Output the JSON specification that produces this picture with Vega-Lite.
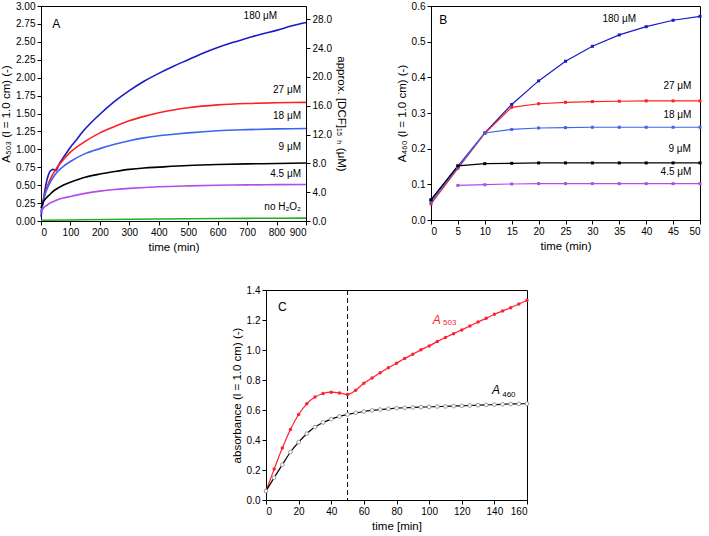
{
  "$schema": "https://vega.github.io/schema/vega-lite/v6.json",
  "padding": {"left": 0, "top": 0, "right": 0, "bottom": 0},
  "background": "white",
  "config": {
    "view": {"stroke": "black", "strokeWidth": 1},
    "font": "Liberation Sans",
    "axis": {
      "labelFont": "Liberation Sans", "titleFont": "Liberation Sans",
      "labelFontSize": 10, "titleFontSize": 11.5, "titleFontWeight": "normal",
      "grid": false, "domainColor": "black", "tickColor": "black",
      "labelColor": "black", "titleColor": "black", "tickSize": 4,
      "labelOverlap": false, "labelBound": false
    },
    "text": {"font": "Liberation Sans", "fontSize": 10, "color": "black"},
    "line": {"strokeWidth": 1.5}
  },
  "resolve": {"scale": {"color": "independent"}},
  "datasets": {
    "A": [
      {"t": 0, "v": 0.06, "s": "180 μM"}, {"t": 5, "v": 0.21, "s": "180 μM"}, {"t": 10, "v": 0.35, "s": "180 μM"}, {"t": 15, "v": 0.47, "s": "180 μM"}, {"t": 20, "v": 0.57, "s": "180 μM"}, {"t": 25, "v": 0.64, "s": "180 μM"}, {"t": 30, "v": 0.69, "s": "180 μM"}, {"t": 35, "v": 0.71, "s": "180 μM"}, {"t": 40, "v": 0.72, "s": "180 μM"}, {"t": 45, "v": 0.714, "s": "180 μM"}, {"t": 50, "v": 0.703, "s": "180 μM"}, {"t": 55, "v": 0.732, "s": "180 μM"}, {"t": 60, "v": 0.78, "s": "180 μM"}, {"t": 70, "v": 0.85, "s": "180 μM"}, {"t": 80, "v": 0.91, "s": "180 μM"}, {"t": 90, "v": 0.97, "s": "180 μM"}, {"t": 100, "v": 1.03, "s": "180 μM"}, {"t": 120, "v": 1.13, "s": "180 μM"}, {"t": 140, "v": 1.24, "s": "180 μM"}, {"t": 160, "v": 1.33, "s": "180 μM"}, {"t": 200, "v": 1.49, "s": "180 μM"}, {"t": 250, "v": 1.67, "s": "180 μM"}, {"t": 300, "v": 1.82, "s": "180 μM"}, {"t": 350, "v": 1.95, "s": "180 μM"}, {"t": 400, "v": 2.06, "s": "180 μM"}, {"t": 450, "v": 2.16, "s": "180 μM"}, {"t": 500, "v": 2.25, "s": "180 μM"}, {"t": 550, "v": 2.34, "s": "180 μM"}, {"t": 600, "v": 2.42, "s": "180 μM"}, {"t": 650, "v": 2.49, "s": "180 μM"}, {"t": 700, "v": 2.55, "s": "180 μM"}, {"t": 750, "v": 2.61, "s": "180 μM"}, {"t": 800, "v": 2.66, "s": "180 μM"}, {"t": 850, "v": 2.72, "s": "180 μM"}, {"t": 900, "v": 2.77, "s": "180 μM"},
      {"t": 0, "v": 0.12, "s": "27 μM"}, {"t": 5, "v": 0.24, "s": "27 μM"}, {"t": 10, "v": 0.33, "s": "27 μM"}, {"t": 15, "v": 0.41, "s": "27 μM"}, {"t": 20, "v": 0.47, "s": "27 μM"}, {"t": 30, "v": 0.57, "s": "27 μM"}, {"t": 40, "v": 0.65, "s": "27 μM"}, {"t": 50, "v": 0.72, "s": "27 μM"}, {"t": 75, "v": 0.85, "s": "27 μM"}, {"t": 100, "v": 0.96, "s": "27 μM"}, {"t": 150, "v": 1.11, "s": "27 μM"}, {"t": 200, "v": 1.23, "s": "27 μM"}, {"t": 250, "v": 1.32, "s": "27 μM"}, {"t": 300, "v": 1.4, "s": "27 μM"}, {"t": 350, "v": 1.46, "s": "27 μM"}, {"t": 400, "v": 1.51, "s": "27 μM"}, {"t": 450, "v": 1.55, "s": "27 μM"}, {"t": 500, "v": 1.58, "s": "27 μM"}, {"t": 600, "v": 1.62, "s": "27 μM"}, {"t": 700, "v": 1.64, "s": "27 μM"}, {"t": 800, "v": 1.65, "s": "27 μM"}, {"t": 900, "v": 1.655, "s": "27 μM"},
      {"t": 0, "v": 0.12, "s": "18 μM"}, {"t": 5, "v": 0.22, "s": "18 μM"}, {"t": 10, "v": 0.31, "s": "18 μM"}, {"t": 15, "v": 0.38, "s": "18 μM"}, {"t": 20, "v": 0.44, "s": "18 μM"}, {"t": 30, "v": 0.53, "s": "18 μM"}, {"t": 40, "v": 0.6, "s": "18 μM"}, {"t": 50, "v": 0.66, "s": "18 μM"}, {"t": 75, "v": 0.76, "s": "18 μM"}, {"t": 100, "v": 0.83, "s": "18 μM"}, {"t": 150, "v": 0.94, "s": "18 μM"}, {"t": 200, "v": 1.01, "s": "18 μM"}, {"t": 250, "v": 1.07, "s": "18 μM"}, {"t": 300, "v": 1.12, "s": "18 μM"}, {"t": 350, "v": 1.16, "s": "18 μM"}, {"t": 400, "v": 1.19, "s": "18 μM"}, {"t": 450, "v": 1.21, "s": "18 μM"}, {"t": 500, "v": 1.23, "s": "18 μM"}, {"t": 600, "v": 1.26, "s": "18 μM"}, {"t": 700, "v": 1.275, "s": "18 μM"}, {"t": 800, "v": 1.285, "s": "18 μM"}, {"t": 900, "v": 1.29, "s": "18 μM"},
      {"t": 0, "v": 0.18, "s": "9 μM"}, {"t": 5, "v": 0.24, "s": "9 μM"}, {"t": 10, "v": 0.28, "s": "9 μM"}, {"t": 20, "v": 0.33, "s": "9 μM"}, {"t": 30, "v": 0.37, "s": "9 μM"}, {"t": 40, "v": 0.41, "s": "9 μM"}, {"t": 50, "v": 0.44, "s": "9 μM"}, {"t": 75, "v": 0.5, "s": "9 μM"}, {"t": 100, "v": 0.54, "s": "9 μM"}, {"t": 150, "v": 0.61, "s": "9 μM"}, {"t": 200, "v": 0.655, "s": "9 μM"}, {"t": 250, "v": 0.69, "s": "9 μM"}, {"t": 300, "v": 0.72, "s": "9 μM"}, {"t": 350, "v": 0.74, "s": "9 μM"}, {"t": 400, "v": 0.752, "s": "9 μM"}, {"t": 500, "v": 0.774, "s": "9 μM"}, {"t": 600, "v": 0.788, "s": "9 μM"}, {"t": 700, "v": 0.797, "s": "9 μM"}, {"t": 800, "v": 0.802, "s": "9 μM"}, {"t": 900, "v": 0.81, "s": "9 μM"},
      {"t": 0, "v": 0.12, "s": "4.5 μM"}, {"t": 5, "v": 0.16, "s": "4.5 μM"}, {"t": 10, "v": 0.19, "s": "4.5 μM"}, {"t": 20, "v": 0.22, "s": "4.5 μM"}, {"t": 30, "v": 0.25, "s": "4.5 μM"}, {"t": 50, "v": 0.285, "s": "4.5 μM"}, {"t": 75, "v": 0.32, "s": "4.5 μM"}, {"t": 100, "v": 0.343, "s": "4.5 μM"}, {"t": 150, "v": 0.385, "s": "4.5 μM"}, {"t": 200, "v": 0.417, "s": "4.5 μM"}, {"t": 250, "v": 0.44, "s": "4.5 μM"}, {"t": 300, "v": 0.455, "s": "4.5 μM"}, {"t": 400, "v": 0.478, "s": "4.5 μM"}, {"t": 500, "v": 0.49, "s": "4.5 μM"}, {"t": 600, "v": 0.498, "s": "4.5 μM"}, {"t": 700, "v": 0.504, "s": "4.5 μM"}, {"t": 800, "v": 0.507, "s": "4.5 μM"}, {"t": 900, "v": 0.51, "s": "4.5 μM"},
      {"t": 0, "v": 0.01, "s": "no H₂O₂"}, {"t": 100, "v": 0.015, "s": "no H₂O₂"}, {"t": 300, "v": 0.025, "s": "no H₂O₂"}, {"t": 500, "v": 0.032, "s": "no H₂O₂"}, {"t": 700, "v": 0.037, "s": "no H₂O₂"}, {"t": 900, "v": 0.04, "s": "no H₂O₂"}
    ],
    "Alabels": [
      {"t": 802, "v": 2.86, "label": "180 μM"},
      {"t": 883, "v": 1.83, "label": "27 μM"},
      {"t": 883, "v": 1.46, "label": "18 μM"},
      {"t": 883, "v": 1.03, "label": "9 μM"},
      {"t": 883, "v": 0.65, "label": "4.5 μM"},
      {"t": 883, "v": 0.195, "label": "no H₂O₂"}
    ],
    "B": [
      {"t": 0, "v": 0.055, "s": "180 μM"}, {"t": 5, "v": 0.151, "s": "180 μM"}, {"t": 10, "v": 0.244, "s": "180 μM"}, {"t": 15, "v": 0.324, "s": "180 μM"}, {"t": 20, "v": 0.39, "s": "180 μM"}, {"t": 25, "v": 0.445, "s": "180 μM"}, {"t": 30, "v": 0.487, "s": "180 μM"}, {"t": 35, "v": 0.519, "s": "180 μM"}, {"t": 40, "v": 0.542, "s": "180 μM"}, {"t": 45, "v": 0.56, "s": "180 μM"}, {"t": 50, "v": 0.571, "s": "180 μM"},
      {"t": 0, "v": 0.045, "s": "27 μM"}, {"t": 5, "v": 0.145, "s": "27 μM"}, {"t": 10, "v": 0.243, "s": "27 μM"}, {"t": 15, "v": 0.316, "s": "27 μM"}, {"t": 20, "v": 0.326, "s": "27 μM"}, {"t": 25, "v": 0.33, "s": "27 μM"}, {"t": 30, "v": 0.332, "s": "27 μM"}, {"t": 35, "v": 0.333, "s": "27 μM"}, {"t": 40, "v": 0.334, "s": "27 μM"}, {"t": 45, "v": 0.334, "s": "27 μM"}, {"t": 50, "v": 0.334, "s": "27 μM"},
      {"t": 0, "v": 0.05, "s": "18 μM"}, {"t": 5, "v": 0.148, "s": "18 μM"}, {"t": 10, "v": 0.244, "s": "18 μM"}, {"t": 15, "v": 0.254, "s": "18 μM"}, {"t": 20, "v": 0.258, "s": "18 μM"}, {"t": 25, "v": 0.259, "s": "18 μM"}, {"t": 30, "v": 0.26, "s": "18 μM"}, {"t": 35, "v": 0.26, "s": "18 μM"}, {"t": 40, "v": 0.26, "s": "18 μM"}, {"t": 45, "v": 0.26, "s": "18 μM"}, {"t": 50, "v": 0.26, "s": "18 μM"},
      {"t": 0, "v": 0.057, "s": "9 μM"}, {"t": 5, "v": 0.152, "s": "9 μM"}, {"t": 10, "v": 0.158, "s": "9 μM"}, {"t": 15, "v": 0.159, "s": "9 μM"}, {"t": 20, "v": 0.16, "s": "9 μM"}, {"t": 25, "v": 0.16, "s": "9 μM"}, {"t": 30, "v": 0.16, "s": "9 μM"}, {"t": 35, "v": 0.16, "s": "9 μM"}, {"t": 40, "v": 0.16, "s": "9 μM"}, {"t": 45, "v": 0.16, "s": "9 μM"}, {"t": 50, "v": 0.16, "s": "9 μM"},
      {"t": 5, "v": 0.097, "s": "4.5 μM"}, {"t": 10, "v": 0.099, "s": "4.5 μM"}, {"t": 15, "v": 0.101, "s": "4.5 μM"}, {"t": 20, "v": 0.102, "s": "4.5 μM"}, {"t": 25, "v": 0.102, "s": "4.5 μM"}, {"t": 30, "v": 0.102, "s": "4.5 μM"}, {"t": 35, "v": 0.102, "s": "4.5 μM"}, {"t": 40, "v": 0.102, "s": "4.5 μM"}, {"t": 45, "v": 0.102, "s": "4.5 μM"}, {"t": 50, "v": 0.102, "s": "4.5 μM"}
    ],
    "Blabels": [
      {"t": 38.1, "v": 0.563, "label": "180 μM"},
      {"t": 48.4, "v": 0.376, "label": "27 μM"},
      {"t": 48.4, "v": 0.294, "label": "18 μM"},
      {"t": 48.3, "v": 0.198, "label": "9 μM"},
      {"t": 48.4, "v": 0.135, "label": "4.5 μM"}
    ],
    "C": [
      {"t": 0, "v": 0.06, "s": "A503"}, {"t": 5, "v": 0.206, "s": "A503"}, {"t": 10, "v": 0.346, "s": "A503"}, {"t": 15, "v": 0.47, "s": "A503"}, {"t": 20, "v": 0.57, "s": "A503"}, {"t": 25, "v": 0.641, "s": "A503"}, {"t": 30, "v": 0.686, "s": "A503"}, {"t": 35, "v": 0.71, "s": "A503"}, {"t": 40, "v": 0.719, "s": "A503"}, {"t": 45, "v": 0.714, "s": "A503"}, {"t": 50, "v": 0.703, "s": "A503"}, {"t": 55, "v": 0.732, "s": "A503"}, {"t": 60, "v": 0.779, "s": "A503"}, {"t": 65, "v": 0.814, "s": "A503"}, {"t": 70, "v": 0.848, "s": "A503"}, {"t": 75, "v": 0.881, "s": "A503"}, {"t": 80, "v": 0.912, "s": "A503"}, {"t": 85, "v": 0.943, "s": "A503"}, {"t": 90, "v": 0.972, "s": "A503"}, {"t": 95, "v": 1.001, "s": "A503"}, {"t": 100, "v": 1.027, "s": "A503"}, {"t": 105, "v": 1.056, "s": "A503"}, {"t": 110, "v": 1.083, "s": "A503"}, {"t": 115, "v": 1.109, "s": "A503"}, {"t": 120, "v": 1.134, "s": "A503"}, {"t": 125, "v": 1.16, "s": "A503"}, {"t": 130, "v": 1.187, "s": "A503"}, {"t": 135, "v": 1.211, "s": "A503"}, {"t": 140, "v": 1.238, "s": "A503"}, {"t": 145, "v": 1.26, "s": "A503"}, {"t": 150, "v": 1.282, "s": "A503"}, {"t": 155, "v": 1.307, "s": "A503"}, {"t": 160, "v": 1.331, "s": "A503"},
      {"t": 0, "v": 0.06, "s": "A460"}, {"t": 5, "v": 0.149, "s": "A460"}, {"t": 10, "v": 0.235, "s": "A460"}, {"t": 15, "v": 0.32, "s": "A460"}, {"t": 20, "v": 0.386, "s": "A460"}, {"t": 25, "v": 0.442, "s": "A460"}, {"t": 30, "v": 0.486, "s": "A460"}, {"t": 35, "v": 0.517, "s": "A460"}, {"t": 40, "v": 0.539, "s": "A460"}, {"t": 45, "v": 0.557, "s": "A460"}, {"t": 50, "v": 0.57, "s": "A460"}, {"t": 55, "v": 0.581, "s": "A460"}, {"t": 60, "v": 0.59, "s": "A460"}, {"t": 65, "v": 0.597, "s": "A460"}, {"t": 70, "v": 0.603, "s": "A460"}, {"t": 75, "v": 0.608, "s": "A460"}, {"t": 80, "v": 0.612, "s": "A460"}, {"t": 85, "v": 0.615, "s": "A460"}, {"t": 90, "v": 0.617, "s": "A460"}, {"t": 95, "v": 0.619, "s": "A460"}, {"t": 100, "v": 0.621, "s": "A460"}, {"t": 105, "v": 0.623, "s": "A460"}, {"t": 110, "v": 0.624, "s": "A460"}, {"t": 115, "v": 0.626, "s": "A460"}, {"t": 120, "v": 0.628, "s": "A460"}, {"t": 125, "v": 0.63, "s": "A460"}, {"t": 130, "v": 0.632, "s": "A460"}, {"t": 135, "v": 0.634, "s": "A460"}, {"t": 140, "v": 0.636, "s": "A460"}, {"t": 145, "v": 0.638, "s": "A460"}, {"t": 150, "v": 0.64, "s": "A460"}, {"t": 155, "v": 0.641, "s": "A460"}, {"t": 160, "v": 0.642, "s": "A460"}
    ]
  },
  "vconcat": [
    {
      "hconcat": [
        {
          "width": 265, "height": 215,
          "layer": [
            {
              "layer": [
                {
                  "data": {"name": "A"},
                  "mark": {"type": "line", "interpolate": "monotone", "strokeWidth": 1.6},
                  "encoding": {
                    "x": {"field": "t", "type": "quantitative", "scale": {"domain": [0, 900], "nice": false}, "axis": {"values": [0, 100, 200, 300, 400, 500, 600, 700, 800, 900], "tickCount": 40, "title": "time (min)"}},
                    "y": {"field": "v", "type": "quantitative", "scale": {"domain": [0, 3], "nice": false}, "axis": {"values": [0, 0.25, 0.5, 0.75, 1, 1.25, 1.5, 1.75, 2, 2.25, 2.5, 2.75, 3], "tickCount": 40, "format": ".2f", "title": "A₅₀₃ (l = 1.0 cm) (-)"}},
                    "color": {"field": "s", "type": "nominal", "legend": null, "scale": {"domain": ["180 μM", "27 μM", "18 μM", "9 μM", "4.5 μM", "no H₂O₂"], "range": ["#1a1ac8", "#ff2020", "#3c64f0", "#000000", "#b04ee8", "#22b022"]}},
                    "detail": {"field": "s"}
                  }
                },
                {
                  "data": {"name": "Alabels"},
                  "mark": {"type": "text", "align": "right", "baseline": "middle"},
                  "encoding": {
                    "x": {"field": "t", "type": "quantitative"},
                    "y": {"field": "v", "type": "quantitative"},
                    "text": {"field": "label"}
                  }
                },
                {
                  "data": {"values": [{"t": 52, "v": 2.75, "label": "A"}]},
                  "mark": {"type": "text", "align": "center", "baseline": "middle", "fontSize": 12},
                  "encoding": {
                    "x": {"field": "t", "type": "quantitative"},
                    "y": {"field": "v", "type": "quantitative"},
                    "text": {"field": "label"}
                  }
                }
              ]
            },
            {
              "data": {"values": [{"d": 0}, {"d": 28}]},
              "mark": {"type": "point", "opacity": 0},
              "encoding": {
                "y": {"field": "d", "type": "quantitative", "scale": {"domain": [0, 29.85], "nice": false}, "axis": {"orient": "right", "values": [0, 4, 8, 12, 16, 20, 24, 28], "tickCount": 40, "format": ".1f", "title": "approx. [DCF]₁₅ ₕ (μM)"}}
              }
            }
          ],
          "resolve": {"scale": {"y": "independent"}}
        },
        {
          "width": 269, "height": 214,
          "layer": [
            {
              "data": {"name": "B"},
              "mark": {"type": "line", "strokeWidth": 1.2},
              "encoding": {
                "x": {"field": "t", "type": "quantitative", "scale": {"domain": [0, 50], "nice": false}, "axis": {"values": [0, 5, 10, 15, 20, 25, 30, 35, 40, 45, 50], "tickCount": 40, "title": "time (min)"}},
                "y": {"field": "v", "type": "quantitative", "scale": {"domain": [0, 0.6], "nice": false}, "axis": {"values": [0, 0.1, 0.2, 0.3, 0.4, 0.5, 0.6], "tickCount": 40, "format": ".1f", "title": "A₄₆₀ (l = 1.0 cm) (-)"}},
                "color": {"field": "s", "type": "nominal", "legend": null, "scale": {"domain": ["180 μM", "27 μM", "18 μM", "9 μM", "4.5 μM"], "range": ["#1a1ac8", "#ff2020", "#3c64f0", "#000000", "#b04ee8"]}}
              }
            },
            {
              "data": {"name": "B"},
              "mark": {"type": "point", "shape": "square", "filled": true, "size": 9, "opacity": 1},
              "encoding": {
                "x": {"field": "t", "type": "quantitative"},
                "y": {"field": "v", "type": "quantitative"},
                "color": {"field": "s", "type": "nominal", "legend": null}
              }
            },
            {
              "data": {"name": "Blabels"},
              "mark": {"type": "text", "align": "right", "baseline": "middle"},
              "encoding": {
                "x": {"field": "t", "type": "quantitative"},
                "y": {"field": "v", "type": "quantitative"},
                "text": {"field": "label"}
              }
            },
            {
              "data": {"values": [{"t": 2.3, "v": 0.561, "label": "B"}]},
              "mark": {"type": "text", "align": "center", "baseline": "middle", "fontSize": 12},
              "encoding": {
                "x": {"field": "t", "type": "quantitative"},
                "y": {"field": "v", "type": "quantitative"},
                "text": {"field": "label"}
              }
            }
          ]
        }
      ],
      "spacing": 48,
      "resolve": {"scale": {"color": "independent"}}
    },
    {
      "hconcat": [
        {
          "width": 189, "height": 10,
          "view": {"stroke": null},
          "data": {"values": [{"a": 0}]},
          "mark": {"type": "point", "opacity": 0},
          "encoding": {
            "x": {"field": "a", "type": "quantitative", "axis": null},
            "y": {"field": "a", "type": "quantitative", "axis": null}
          }
        },
        {
          "width": 261, "height": 210,
          "layer": [
            {
              "data": {"values": [{"t": 50}]},
              "mark": {"type": "rule", "strokeDash": [5, 3], "color": "black", "strokeWidth": 1},
              "encoding": {"x": {"field": "t", "type": "quantitative"}}
            },
            {
              "data": {"name": "C"},
              "mark": {"type": "line", "strokeWidth": 1.2, "interpolate": "monotone"},
              "encoding": {
                "x": {"field": "t", "type": "quantitative", "scale": {"domain": [0, 160], "nice": false}, "axis": {"values": [0, 20, 40, 60, 80, 100, 120, 140, 160], "tickCount": 40, "title": "time [min]"}},
                "y": {"field": "v", "type": "quantitative", "scale": {"domain": [0, 1.4], "nice": false}, "axis": {"values": [0, 0.2, 0.4, 0.6, 0.8, 1, 1.2, 1.4], "tickCount": 40, "format": ".1f", "title": "absorbance (l = 1.0 cm) (-)"}},
                "color": {"field": "s", "type": "nominal", "legend": null, "scale": {"domain": ["A503", "A460"], "range": ["#ff2030", "#000000"]}}
              }
            },
            {
              "data": {"name": "C"},
              "transform": [{"filter": "datum.s === 'A503'"}],
              "mark": {"type": "point", "shape": "circle", "filled": true, "size": 12, "color": "#ff2030", "opacity": 1},
              "encoding": {
                "x": {"field": "t", "type": "quantitative"},
                "y": {"field": "v", "type": "quantitative"}
              }
            },
            {
              "data": {"name": "C"},
              "transform": [{"filter": "datum.s === 'A460'"}],
              "mark": {"type": "point", "shape": "circle", "filled": true, "size": 14, "fill": "white", "stroke": "#999999", "strokeWidth": 1, "opacity": 1},
              "encoding": {
                "x": {"field": "t", "type": "quantitative"},
                "y": {"field": "v", "type": "quantitative"}
              }
            },
            {
              "data": {"values": [{"t": 10, "v": 1.287, "label": "C"}]},
              "mark": {"type": "text", "align": "center", "baseline": "middle", "fontSize": 12},
              "encoding": {
                "x": {"field": "t", "type": "quantitative"},
                "y": {"field": "v", "type": "quantitative"},
                "text": {"field": "label"}
              }
            },
            {
              "data": {"values": [{"t": 104.6, "v": 1.2, "label": "A", "c": "red"}, {"t": 141, "v": 0.734, "label": "A", "c": "black"}]},
              "mark": {"type": "text", "align": "center", "baseline": "middle", "fontSize": 12, "fontStyle": "italic"},
              "encoding": {
                "x": {"field": "t", "type": "quantitative"},
                "y": {"field": "v", "type": "quantitative"},
                "text": {"field": "label"},
                "color": {"field": "c", "type": "nominal", "legend": null, "scale": {"domain": ["red", "black"], "range": ["#ff2030", "#000000"]}}
              }
            },
            {
              "data": {"values": [{"t": 108.5, "v": 1.178, "label": "503", "c": "red"}, {"t": 144.8, "v": 0.701, "label": "460", "c": "black"}]},
              "mark": {"type": "text", "align": "left", "baseline": "middle", "fontSize": 8},
              "encoding": {
                "x": {"field": "t", "type": "quantitative"},
                "y": {"field": "v", "type": "quantitative"},
                "text": {"field": "label"},
                "color": {"field": "c", "type": "nominal", "legend": null, "scale": {"domain": ["red", "black"], "range": ["#ff2030", "#000000"]}}
              }
            }
          ],
          "resolve": {"scale": {"color": "independent"}}
        }
      ],
      "spacing": 0
    }
  ],
  "spacing": 31
}
